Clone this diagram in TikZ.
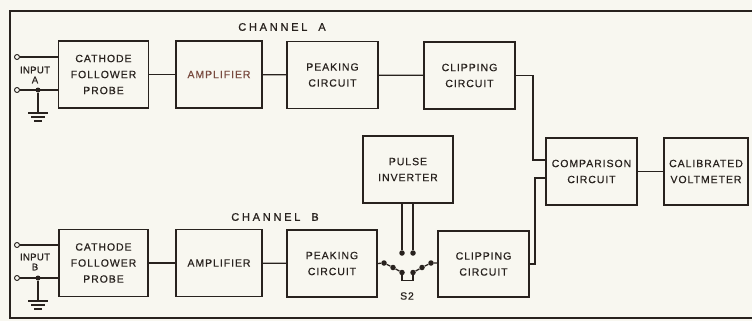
\documentclass[tikz,border=0pt]{standalone}
\usepackage{fontspec}
\setmainfont{Liberation Sans}[FakeBold=0.6]
\definecolor{PaperBg}{RGB}{248,247,240}
\definecolor{InkDark}{RGB}{40,34,30}
\definecolor{InkBrown}{RGB}{120,74,62}
\usetikzlibrary{positioning, calc}

\tikzset{
  blk/.style={draw=InkDark, line width=1.5pt, fill=PaperBg, align=center,
              minimum width=90pt, minimum height=67pt, inner sep=1pt,
              text=InkDark, font=\fontsize{10.5}{16}\selectfont\addfontfeature{LetterSpace=9}},
  lbl/.style={text=InkDark, inner sep=0pt, align=center,
              font=\fontsize{11}{11}\selectfont\addfontfeature{LetterSpace=25}},
  wire/.style={InkDark, line width=1.3pt},
  jdot/.style={circle, fill=InkDark, inner sep=0pt, minimum size=5.5pt},
  term/.style={circle, draw=InkDark, fill=PaperBg, line width=0.9pt, inner sep=0pt, minimum size=5pt}
}

\begin{document}
\begin{tikzpicture}[x=1pt, y=-1pt]

  % Paper and frame
  \fill[PaperBg] (0,0) rectangle (752,321);
  \useasboundingbox (0,0) rectangle (752,321);
  \draw[InkDark, line width=1.6pt]
        (752,11) -- (10,11) -- (10,318) -- (752,318);

  % Channel labels
  \node[lbl] (chA) at (282,27) {CHANNEL\hspace{11pt}A};
  \node[lbl] (chB) at (275,217) {CHANNEL\hspace{11pt}B};

  % Channel A blocks
  \node[blk, minimum width=90pt] (cfA) at (103.5,74.5) {CATHODE\\FOLLOWER\\PROBE};
  \node[blk, minimum width=86pt, text=InkBrown] (ampA) at (219,74.5) {AMPLIFIER};
  \node[blk, minimum width=91pt] (peakA) at (332.5,75) {PEAKING\\CIRCUIT};
  \node[blk, minimum width=91pt] (clipA) at (469.5,75.5) {CLIPPING\\CIRCUIT};

  % Channel B blocks
  \node[blk, minimum width=89pt] (cfB) at (103.5,263) {CATHODE\\FOLLOWER\\PROBE};
  \node[blk, minimum width=86pt] (ampB) at (219,263) {AMPLIFIER};
  \node[blk, minimum width=90pt] (peakB) at (332,263.5) {PEAKING\\CIRCUIT};
  \node[blk, minimum width=91pt, minimum height=66pt] (clipB) at (483.5,264) {CLIPPING\\CIRCUIT};

  % Inverter, comparison and meter
  \node[blk, minimum width=90pt] (pulse) at (408,169.5) {PULSE\\INVERTER};
  \node[blk, minimum width=91pt] (comp) at (591.5,171.5) {COMPARISON\\CIRCUIT};
  \node[blk, minimum width=84pt] (volt) at (706,171.5) {CALIBRATED\\VOLTMETER};

  % Chain connections
  \draw[wire] (cfA) -- (ampA);
  \draw[wire] (ampA) -- (peakA);
  \draw[wire] (peakA) -- (clipA);
  \draw[wire] (cfB) -- (ampB);
  \draw[wire] (ampB) -- (peakB);
  \draw[wire] (comp) -- (volt);

  % Into comparison circuit
  \coordinate (jA) at (533,160);
  \coordinate (jB) at (535,178);
  \draw[wire] (clipA.east) -| (jA) -- (jA -| comp.west);
  \draw[wire] (clipB.east) -| (jB) -- (jB -| comp.west);

  % Input A
  \node[term] (inA1) at (17,57) {};
  \node[term] (inA2) at (17,90) {};
  \node[jdot, minimum size=5pt] (gA) at (38,90) {};
  \draw[wire] (inA1) -- (inA1 -| cfA.west);
  \draw[wire] (inA2) -- (inA2 -| cfA.west);
  \coordinate (gndA) at (38,113);
  \draw[wire] (gA) -- (gndA);
  \draw[wire] ($(gndA)+(-10,0)$) -- ++(20,0)
              ($(gndA)+(-7,4)$) -- ++(14,0)
              ($(gndA)+(-4,8)$) -- ++(8,0);
  \node[lbl, font=\fontsize{9.5}{10}\selectfont\addfontfeature{LetterSpace=4}] (labA) at (35,75) {INPUT\\A};

  % Input B
  \node[term] (inB1) at (17,245) {};
  \node[term] (inB2) at (17,278) {};
  \node[jdot, minimum size=5pt] (gB) at (38,278) {};
  \draw[wire] (inB1) -- (inB1 -| cfB.west);
  \draw[wire] (inB2) -- (inB2 -| cfB.west);
  \coordinate (gndB) at (38,301);
  \draw[wire] (gB) -- (gndB);
  \draw[wire] ($(gndB)+(-10,0)$) -- ++(20,0)
              ($(gndB)+(-7,4)$) -- ++(14,0)
              ($(gndB)+(-4,8)$) -- ++(8,0);
  \node[lbl, font=\fontsize{9.5}{10}\selectfont\addfontfeature{LetterSpace=4}] (labB) at (35,262) {INPUT\\B};

  % Switch S2
  \node[jdot] (sL1) at (384,263) {};
  \node[jdot] (sL2) at (393,267.5) {};
  \node[jdot] (sL3) at (402,272.5) {};
  \node[jdot] (sR1) at (431,263) {};
  \node[jdot] (sR2) at (422,267.5) {};
  \node[jdot] (sR3) at (413,272.5) {};
  \node[jdot] (sT1) at (402,253) {};
  \node[jdot] (sT2) at (413,253) {};
  \draw[wire] (peakB.east) -- (sL1) -- (sL2) -- (sL3);
  \draw[wire] (clipB.west |- sR1) -- (sR1) -- (sR2) -- (sR3);
  \draw[wire] (sL3) -- ++(0,8) -| (sR3);
  \draw[wire] (sT1 |- pulse.south) -- (sT1);
  \draw[wire] (sT2 |- pulse.south) -- (sT2);
  \node[lbl, font=\fontsize{10.5}{11}\selectfont\addfontfeature{LetterSpace=8}] (s2) at (407,296) {S2};

\end{tikzpicture}
\end{document}
